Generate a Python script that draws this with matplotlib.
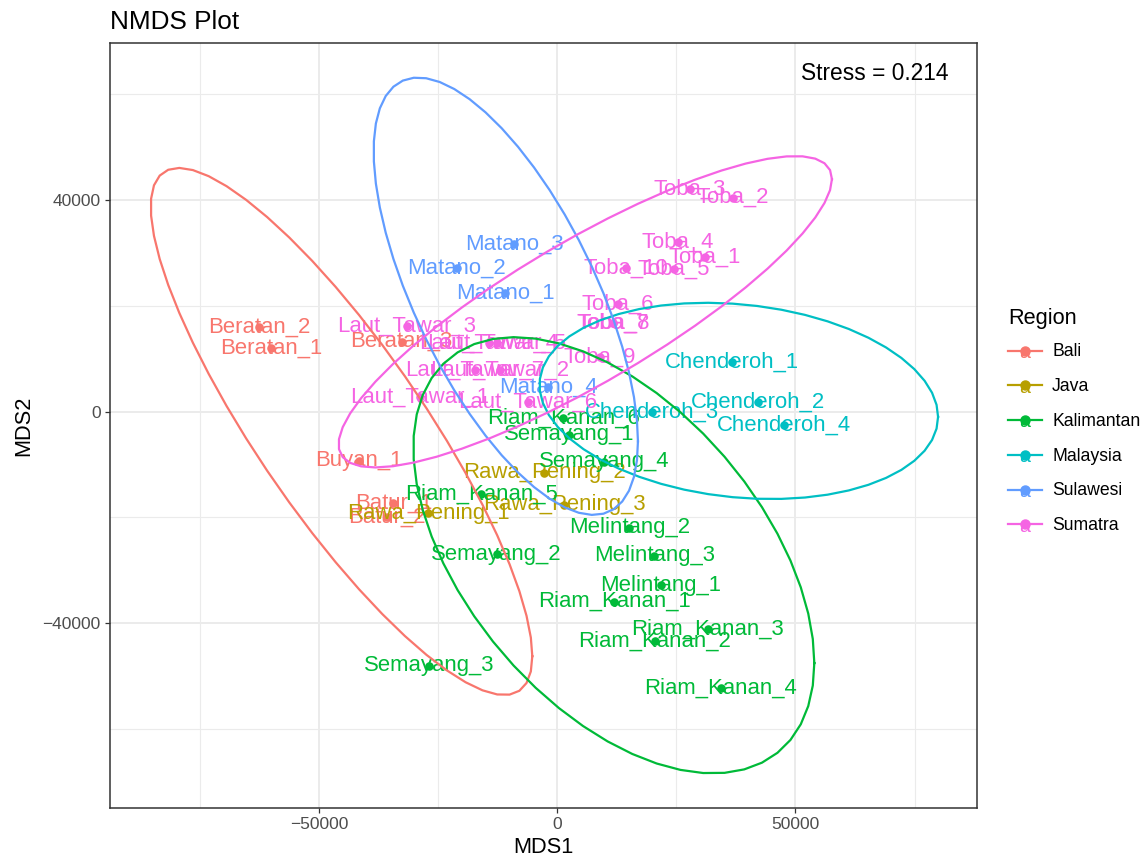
import numpy as np
import matplotlib
matplotlib.use("Agg")
import matplotlib.pyplot as plt
from matplotlib.lines import Line2D
from matplotlib.text import Text
from matplotlib.legend_handler import HandlerBase

plt.rcParams['font.family'] = ['Liberation Sans', 'DejaVu Sans']

# ---------------- data ----------------
sites = ["Beratan_1", "Beratan_2", "Beratan_3", "Buyan_1", "Batur_1", "Batur_2",
         "Rawa_Pening_1", "Rawa_Pening_2", "Rawa_Pening_3",
         "Riam_Kanan_1", "Riam_Kanan_2", "Riam_Kanan_3", "Riam_Kanan_4", "Riam_Kanan_5", "Riam_Kanan_6",
         "Semayang_1", "Semayang_2", "Semayang_3", "Semayang_4",
         "Melintang_1", "Melintang_2", "Melintang_3",
         "Chenderoh_1", "Chenderoh_2", "Chenderoh_3", "Chenderoh_4",
         "Matano_1", "Matano_2", "Matano_3", "Matano_4",
         "Laut_Tawar_1", "Laut_Tawar_2", "Laut_Tawar_3", "Laut_Tawar_4", "Laut_Tawar_5",
         "Laut_Tawar_6", "Laut_Tawar_7",
         "Toba_1", "Toba_2", "Toba_3", "Toba_4", "Toba_5", "Toba_6", "Toba_7", "Toba_8",
         "Toba_9", "Toba_10"]

mds1 = [-60130, -62640, -32740, -41800, -34460, -35840,
        -27110, -2770, 1430,
        11920, 20460, 31520, 34310, -16050, 1220,
        2410, -12760, -26900, 9820,
        21720, 15070, 20310,
        36560, 42140, 19900, 47530,
        -11020, -21150, -9070, -1930,
        -28860, -12070, -31650, -14380, -12700,
        -6250, -17310,
        30950, 36770, 27810, 25350, 24450, 12630, 11580, 11750,
        8920, 14380]

mds2 = [11950, 16030, 13200, -9300, -17350, -19890,
        -19240, -11570, -17670,
        -35950, -43330, -41120, -52210, -15650, -1170,
        -4440, -27000, -48050, -9490,
        -32800, -21970, -27260,
        9410, 1850, -40, -2550,
        22460, 27070, 31660, 4690,
        2800, 7850, 16220, 12950, 12950,
        1850, 7850,
        29260, 40420, 42060, 31990, 26880, 20260, 16670, 16770,
        10360, 27070]

region = (["Bali"] * 6 + ["Java"] * 3 + ["Kalimantan"] * 13 + ["Malaysia"] * 4 +
          ["Sulawesi"] * 4 + ["Sumatra"] * 17)

regions = ["Bali", "Java", "Kalimantan", "Malaysia", "Sulawesi", "Sumatra"]
colors = ["#F8766D", "#B79F00", "#00BA38", "#00BFC4", "#619CFF", "#F564E3"]
stress = 0.214

mds1 = np.array(mds1, dtype=float)
mds2 = np.array(mds2, dtype=float)
region = np.array(region)
cmap = dict(zip(regions, colors))


# ---------------- ellipse (ggplot2 stat_ellipse, type = "t") ----------------
def cov_trob(x, nu=5, maxit=25, tol=0.01):
    n, p = x.shape
    wt = np.ones(n)
    loc = x.mean(axis=0)
    w = np.sqrt(wt)
    X = x - loc
    for _ in range(maxit):
        w0 = w
        X = x - loc
        _, d, vt = np.linalg.svd(np.sqrt(w / w.sum())[:, None] * X, full_matrices=False)
        wX = X @ vt.T @ np.diag(1.0 / d)
        Q = (wX ** 2).sum(axis=1)
        w = (wt * (nu + p)) / (nu + Q)
        loc = (w[:, None] * x).sum(axis=0) / w.sum()
        if np.all(np.abs(w - w0) < tol):
            break
    sw = np.sqrt(w)[:, None] * X
    cov = sw.T @ sw / wt.sum()
    return cov, loc


def ellipse_path(x, level=0.95, segments=51):
    n = x.shape[0]
    cov, center = cov_trob(x)
    dfn, dfd = 2, n - 1
    qf = dfd / 2.0 * ((1 - level) ** (-2.0 / dfd) - 1)
    radius = np.sqrt(dfn * qf)
    ang = np.arange(segments + 1) * 2 * np.pi / segments
    circ = np.column_stack([np.cos(ang), np.sin(ang)])
    R = np.linalg.cholesky(cov).T
    pts = center + radius * (circ @ R)
    return pts[:, 0], pts[:, 1]


# ---------------- figure ----------------
W, H = 1147, 863
fig = plt.figure(figsize=(W / 100, H / 100), dpi=100)
ax = fig.add_axes([110 / W, 1 - 808 / H, (977 - 110) / W, (808 - 43) / H])

ax.set_xlim(-94010, 88130)
ax.set_ylim(-74950, 69660)

ax.set_xticks([-50000, 0, 50000])
ax.set_xticklabels(["\u221250000", "0", "50000"])
ax.set_yticks([-40000, 0, 40000])
ax.set_yticklabels(["\u221240000", "0", "40000"])
ax.set_xticks([-75000, -25000, 25000, 75000], minor=True)
ax.set_yticks([-60000, -20000, 20000, 60000], minor=True)
ax.grid(which='major', color='#EBEBEB', lw=1.4)
ax.grid(which='minor', color='#EBEBEB', lw=0.8)
ax.set_axisbelow(True)
ax.tick_params(which='major', length=3.8, width=0.9, color='#333333',
               labelsize=12.5, labelcolor='#4D4D4D', pad=3)
ax.tick_params(which='minor', length=0)
for s in ax.spines.values():
    s.set_color('#333333')
    s.set_linewidth(1.1)

# points
for reg in regions:
    m = region == reg
    ax.scatter(mds1[m], mds2[m], s=38, color=cmap[reg], zorder=3, linewidths=0)

# labels
for xi, yi, lab, reg in zip(mds1, mds2, sites, region):
    ax.text(xi, yi, lab, color=cmap[reg], fontsize=15.9, ha='center', va='center', zorder=4)

# ellipses
for reg in regions:
    m = region == reg
    if m.sum() > 3:
        ex, ey = ellipse_path(np.column_stack([mds1[m], mds2[m]]))
        ax.plot(ex, ey, color=cmap[reg], lw=1.6, zorder=5)

ax.text(66700, 63800, f"Stress = {stress}", fontsize=16.4, ha='center', va='center', color='black')

ax.set_xlabel("MDS1", fontsize=15.7, labelpad=3)
ax.set_ylabel("MDS2", fontsize=15.7, labelpad=6)
ax.set_title("NMDS Plot", loc='left', fontsize=18.8, pad=10)


# ---------------- legend ----------------
class KeyHandler(HandlerBase):
    def create_artists(self, legend, orig_handle, xdescent, ydescent, width, height, fontsize, trans):
        c = orig_handle.get_color()
        cx = -xdescent + width / 2
        cy = -ydescent + height / 2
        line = Line2D([-xdescent, -xdescent + width], [cy, cy], color=c, lw=1.6, transform=trans)
        dot = Line2D([cx], [cy], marker='o', ms=6.5, color=c, lw=0, transform=trans)
        txt = Text(cx, cy - 2, 'a', color=c, ha='center', va='center', fontsize=14, transform=trans)
        return [line, dot, txt]


handles = [Line2D([], [], color=c) for c in colors]
leg = fig.legend(handles, regions, handler_map={Line2D: KeyHandler()},
                 loc='upper left', bbox_to_anchor=(1008 / W, 1 - 308 / H),
                 frameon=False, fontsize=12.7, title="Region", title_fontsize=15.7,
                 handlelength=1.9, handleheight=1.9, handletextpad=0.6,
                 labelspacing=0.49, borderpad=0, borderaxespad=0, alignment='left')

fig.savefig("out.png", dpi=100)
